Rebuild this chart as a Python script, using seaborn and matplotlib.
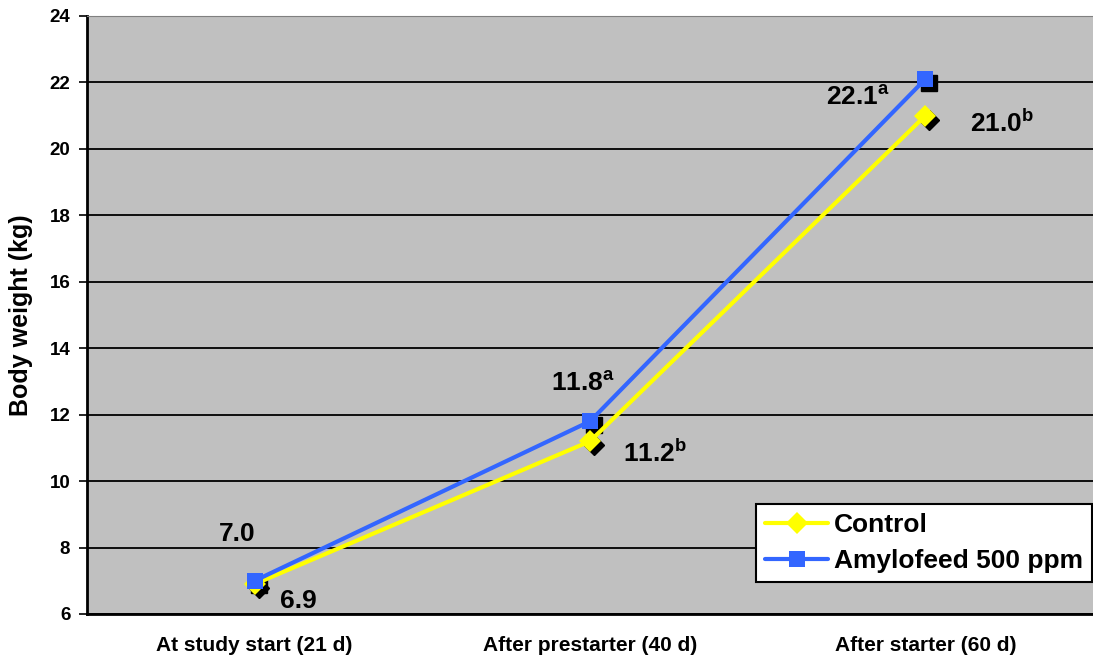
import pandas as pd
import matplotlib
matplotlib.use("Agg")
import matplotlib.pyplot as plt
import matplotlib.transforms as mtransforms
import seaborn as sns

# ------------ Data ------------
stages = ["At study start (21 d)", "After prestarter (40 d)", "After starter (60 d)"]
control = [6.9, 11.2, 21.0]
amylofeed = [7.0, 11.8, 22.1]
control_labels = ["6.9", "11.2$^{b}$", "21.0$^{b}$"]
amylofeed_labels = ["7.0", "11.8$^{a}$", "22.1$^{a}$"]
series_names = ["Control", "Amylofeed 500 ppm"]

df = pd.DataFrame({
    "stage": stages * 2,
    "x": list(range(len(stages))) * 2,
    "weight": control + amylofeed,
    "group": [series_names[0]] * 3 + [series_names[1]] * 3,
})

# ------------ Style ------------
sns.set_style("white")
plt.rcParams["font.family"] = ["Liberation Sans", "DejaVu Sans"]
plt.rcParams["mathtext.fontset"] = "custom"
plt.rcParams["mathtext.rm"] = "Liberation Sans:bold"
plt.rcParams["mathtext.default"] = "regular"
for key in ["text.color", "axes.labelcolor", "xtick.color", "ytick.color"]:
    plt.rcParams[key] = "black"

fig = plt.figure(figsize=(10.93, 6.61), dpi=100)
ax = fig.add_axes([87 / 1093, 1 - 614 / 661, 1 - 87 / 1093, 598 / 661])
ax.set_facecolor("#C0C0C0")

palette = {series_names[0]: "#FFFF00", series_names[1]: "#3366FF"}
markers = {series_names[0]: "D", series_names[1]: "s"}

# black drop shadows for the markers
shadow = mtransforms.offset_copy(ax.transData, fig=fig, x=4, y=-4, units="dots")
for name, vals, m, ms in [(series_names[0], control, "D", 10), (series_names[1], amylofeed, "s", 12)]:
    ax.plot(range(len(stages)), vals, linestyle="none", marker=m, markersize=ms,
            color="black", transform=shadow, zorder=3)

sns.lineplot(data=df, x="x", y="weight", hue="group", style="group",
             markers=markers, dashes=False, palette=palette, linewidth=3,
             markersize=11, markeredgewidth=0, ax=ax, zorder=4, legend=True)

# value labels (offsets in pixels from each point)
ctrl_off = [(44, -17), (65, -12), (77, -8)]
amy_off = [(-17, 47), (-7, 38), (-67, -19)]
for i in range(len(stages)):
    ax.annotate(control_labels[i], (i, control[i]), xytext=ctrl_off[i],
                textcoords="offset pixels", ha="center", va="center",
                fontsize=19, fontweight="bold", zorder=6)
    ax.annotate(amylofeed_labels[i], (i, amylofeed[i]), xytext=amy_off[i],
                textcoords="offset pixels", ha="center", va="center",
                fontsize=19, fontweight="bold", zorder=6)

# ------------ Axes ------------
ax.set_ylim(6, 24)
ax.set_xlim(-0.5, 2.5 - 8 / 338)
ax.set_yticks(range(6, 25, 2))
ax.set_yticklabels([str(v) for v in range(6, 25, 2)], fontsize=13.5, fontweight="bold")
ax.set_xticks(range(len(stages)))
ax.set_xticklabels(stages, fontsize=15, fontweight="bold")
ax.set_xticks([-0.5, 0.5, 1.5, 2.5], minor=True)
ax.tick_params(axis="x", which="major", length=0, pad=16)
ax.tick_params(axis="x", which="minor", length=7, width=1.2, color="black", direction="out")
ax.tick_params(axis="y", length=6, width=1.2, color="black", direction="out", left=True, pad=6)

ax.grid(True, axis="y", color="black", linewidth=1.3)
ax.set_axisbelow(True)
ax.spines["right"].set_visible(False)
ax.spines["top"].set_color("#808080")
ax.spines["left"].set_linewidth(2)
ax.spines["bottom"].set_linewidth(2)
ax.spines["left"].set_color("black")
ax.spines["bottom"].set_color("black")

ax.set_xlabel("")
ax.set_ylabel("Body weight (kg)", fontsize=18, fontweight="bold", labelpad=12)

leg = ax.legend(loc="lower right", bbox_to_anchor=(0.999, 0.0535), borderaxespad=0,
                frameon=True, fancybox=False, edgecolor="black", framealpha=1,
                prop={"size": 19, "weight": "bold"}, handlelength=2.4,
                handletextpad=0.2, borderpad=0.35, labelspacing=0.45)
leg.get_frame().set_linewidth(1.5)
leg.set_zorder(10)

fig.savefig("out.png", dpi=100)
